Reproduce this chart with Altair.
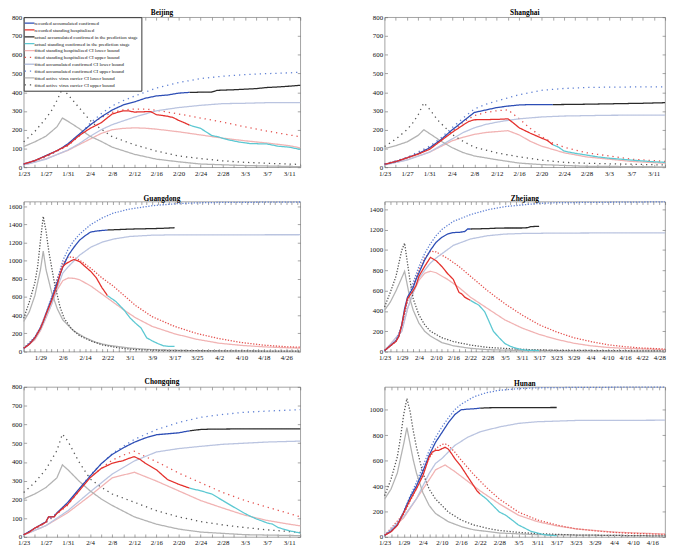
import altair as alt
import pandas as pd

FONT = "Liberation Serif"

KEYS = ["acc", "hos", "acc_pred", "hos_pred", "hos_lo", "hos_hi",
        "acc_lo", "acc_hi", "car_lo", "car_hi"]
LABELS = [
    "recorded accumulated confirmed",
    "recorded standing hospitalized",
    "actual accumulated confirmed in the prediction stage",
    "actual standing confirmed in the prediction stage",
    "fitted standing hospitalized CI lower bound",
    "fitted standing hospitalized CI upper bound",
    "fitted accumulated confirmed CI lower bound",
    "fitted accumulated confirmed CI upper bound",
    "fitted active virus carrier CI lower bound",
    "fitted active virus carrier CI upper bound",
]
COLORS = ["#2c4db5", "#e4302c", "#2a2a2a", "#5cc8d2", "#f1b3b3", "#e4514e",
          "#bac4e0", "#5f80d4", "#b3b3b3", "#555555"]
WIDTHS = [1.3, 1.3, 1.3, 1.1, 0.7, 1.5, 0.7, 1.5, 0.7, 1.5]

# ---- values: [day since 1/23, value] ----
BEIJING = {
    "acc": [[0, 17], [2, 35], [4, 62], [6, 88], [7, 105], [8, 125], [10, 175], [12, 225], [14, 268], [16, 305], [18, 332], [20, 348], [22, 368], [24, 380], [26, 385], [28, 395], [30, 399]],
    "hos": [[0, 17], [2, 35], [4, 60], [6, 88], [8, 118], [10, 168], [12, 207], [14, 237], [16, 284], [18, 301], [19, 300], [20, 294], [22, 296], [23, 296], [24, 280], [26, 272], [27, 265], [28, 250], [29, 238], [30, 224]],
    "acc_pred": [[30, 399], [34, 401], [35, 410], [38, 413], [40, 416], [42, 419], [44, 425], [46, 428], [48, 432], [50, 437]],
    "hos_pred": [[30, 224], [32, 207], [34, 169], [35, 163], [37, 146], [39, 134], [41, 126], [44, 124], [46, 112], [48, 107], [50, 95]],
    "hos_lo": [[0, 12], [4, 45], [8, 90], [10, 120], [12, 150], [14, 180], [16, 200], [18, 207], [20, 210], [22, 208], [24, 203], [28, 189], [32, 172], [36, 155], [40, 141], [44, 129], [48, 115], [50, 103]],
    "hos_hi": [[0, 15], [4, 55], [8, 115], [10, 165], [12, 225], [14, 265], [16, 292], [18, 306], [20, 310], [22, 310], [24, 304], [28, 284], [32, 262], [36, 241], [40, 215], [44, 193], [48, 172], [50, 163]],
    "acc_lo": [[0, 12], [4, 42], [8, 92], [10, 125], [12, 165], [14, 200], [16, 227], [20, 267], [24, 301], [28, 318], [32, 330], [36, 339], [40, 341], [44, 344], [50, 345]],
    "acc_hi": [[0, 17], [4, 55], [8, 118], [10, 170], [12, 235], [14, 285], [16, 327], [18, 355], [20, 379], [24, 422], [28, 451], [32, 473], [36, 485], [40, 494], [44, 499], [48, 503], [50, 507]],
    "car_lo": [[0, 110], [2, 135], [4, 165], [6, 215], [7, 262], [8, 245], [10, 207], [12, 165], [14, 138], [16, 107], [20, 69], [24, 43], [28, 29], [32, 17], [40, 9], [50, 3]],
    "car_hi": [[0, 135], [2, 190], [4, 260], [5, 300], [6, 355], [7, 420], [8, 387], [9, 353], [10, 318], [11, 284], [12, 250], [13, 224], [14, 203], [16, 163], [20, 120], [24, 86], [28, 60], [32, 46], [36, 34], [40, 26], [44, 21], [50, 15]],
}

SHANGHAI = {
    "acc": [[0, 16], [2, 30], [4, 50], [6, 72], [8, 103], [10, 146], [12, 198], [14, 245], [16, 292], [18, 305], [20, 318], [22, 326], [24, 332], [26, 334], [28, 334], [30, 334]],
    "hos": [[0, 16], [2, 30], [4, 50], [6, 70], [8, 95], [10, 140], [12, 185], [14, 225], [15, 244], [16, 253], [18, 254], [20, 255], [22, 258], [23, 235], [24, 210], [26, 181], [28, 155], [29, 143], [30, 120]],
    "acc_pred": [[30, 334], [34, 335], [38, 337], [42, 339], [46, 341], [50, 344]],
    "hos_pred": [[30, 120], [31, 107], [32, 86], [34, 74], [36, 65], [38, 55], [40, 48], [44, 38], [48, 29], [50, 26]],
    "hos_lo": [[0, 13], [4, 40], [8, 80], [10, 110], [12, 140], [14, 160], [16, 175], [18, 185], [20, 190], [22, 195], [24, 172], [26, 138], [28, 112], [30, 95], [32, 77], [36, 55], [40, 43], [44, 31], [50, 21]],
    "hos_hi": [[0, 16], [4, 50], [8, 105], [10, 145], [12, 189], [14, 241], [16, 275], [18, 292], [20, 301], [22, 306], [24, 258], [26, 206], [28, 163], [30, 129], [32, 107], [36, 77], [40, 60], [44, 43], [50, 31]],
    "acc_lo": [[0, 12], [4, 38], [8, 80], [10, 115], [12, 150], [14, 185], [16, 210], [18, 228], [20, 240], [22, 250], [24, 258], [28, 268], [32, 273], [40, 277], [50, 278]],
    "acc_hi": [[0, 17], [4, 52], [8, 112], [10, 155], [12, 210], [14, 262], [16, 310], [18, 335], [20, 353], [24, 387], [28, 410], [32, 420], [36, 425], [40, 427], [50, 429]],
    "car_lo": [[0, 100], [2, 115], [4, 135], [6, 170], [7, 200], [8, 180], [10, 140], [12, 105], [14, 78], [16, 60], [20, 40], [24, 22], [28, 14], [36, 5], [50, 2]],
    "car_hi": [[0, 110], [2, 150], [4, 200], [5, 235], [6, 280], [7, 344], [8, 310], [9.5, 250], [11, 206], [12, 175], [14, 138], [16, 107], [20, 77], [24, 55], [28, 38], [32, 26], [36, 21], [50, 12]],
}

GUANGDONG = {
    "acc": [[0, 36], [2, 82], [4, 153], [6, 260], [7, 331], [8, 420], [10, 580], [12, 757], [14, 930], [16, 1060], [18, 1148], [20, 1225], [22, 1275], [24, 1315], [26, 1325], [28, 1332], [30, 1337]],
    "hos": [[0, 36], [2, 80], [4, 150], [6, 255], [8, 410], [10, 560], [12, 730], [13, 850], [14, 935], [15, 964], [17, 1000], [18, 1013], [20, 990], [22, 935], [24, 882], [26, 811], [28, 704], [30, 615]],
    "acc_pred": [[30, 1337], [34, 1342], [38, 1347], [42, 1350], [46, 1352], [50, 1356], [54, 1362]],
    "hos_pred": [[30, 615], [33, 551], [36, 455], [38, 373], [40, 313], [42, 260], [44, 153], [46, 117], [48, 89], [50, 64], [52, 57], [54, 57]],
    "hos_lo": [[0, 30], [4, 130], [6, 230], [8, 370], [10, 520], [12, 680], [14, 780], [16, 810], [18, 805], [20, 790], [24, 722], [28, 633], [32, 544], [36, 455], [40, 373], [46, 277], [54, 196], [62, 135], [70, 92], [78, 68], [86, 52], [94, 42], [99, 38]],
    "hos_hi": [[0, 36], [4, 150], [6, 250], [8, 400], [10, 570], [12, 800], [14, 970], [16, 1042], [18, 1035], [20, 1006], [24, 917], [28, 811], [32, 722], [36, 615], [40, 508], [46, 384], [54, 277], [62, 199], [70, 142], [78, 100], [86, 71], [94, 53], [99, 48]],
    "acc_lo": [[0, 30], [4, 140], [6, 240], [8, 380], [10, 520], [12, 700], [14, 864], [16, 935], [20, 1060], [24, 1148], [28, 1202], [32, 1237], [38, 1266], [46, 1280], [54, 1284], [99, 1285]],
    "acc_hi": [[0, 36], [4, 160], [6, 270], [8, 420], [10, 600], [12, 790], [14, 1000], [16, 1131], [18, 1220], [20, 1291], [24, 1397], [28, 1468], [32, 1522], [38, 1568], [46, 1604], [54, 1625], [62, 1636], [70, 1640], [99, 1645]],
    "car_lo": [[0, 331], [2, 437], [4, 615], [6, 900], [7, 1105], [8, 900], [10, 651], [12, 473], [14, 348], [18, 224], [22, 153], [26, 100], [30, 71], [38, 39], [46, 21], [60, 11], [99, 4]],
    "car_hi": [[0, 366], [2, 544], [4, 757], [5, 935], [6, 1220], [7, 1486], [8, 1326], [9, 1100], [11, 757], [13, 490], [14.5, 366], [17, 255], [20, 175], [24, 117], [28, 75], [34, 40], [40, 22], [52, 11], [99, 4]],
}

ZHEJIANG = {
    "acc": [[0, 10], [2, 57], [4, 105], [5, 153], [6, 264], [7, 423], [8, 535], [10, 630], [11, 710], [12, 773], [14, 900], [16, 996], [18, 1075], [20, 1123], [22, 1155], [24, 1170], [26, 1172], [28, 1180], [29, 1205], [30, 1205]],
    "hos": [[0, 10], [2, 57], [4, 100], [5, 150], [6, 260], [7, 400], [8, 520], [10, 600], [11, 650], [12, 741], [14, 837], [16, 926], [18, 894], [20, 837], [22, 767], [24, 710], [25, 646], [26, 582], [27, 566], [28, 535], [30, 503]],
    "acc_pred": [[30, 1205], [36, 1209], [38, 1212], [42, 1215], [48, 1215], [50, 1218], [51, 1228], [54, 1232]],
    "hos_pred": [[30, 503], [33, 455], [35, 391], [36, 328], [38, 200], [40, 137], [42, 80], [44, 51], [46, 32], [48, 19], [50, 13], [54, 10]],
    "hos_lo": [[0, 8], [6, 200], [8, 420], [10, 580], [12, 700], [14, 770], [16, 790], [18, 775], [22, 710], [26, 630], [30, 535], [36, 423], [42, 312], [48, 232], [54, 169], [60, 121], [66, 83], [72, 57], [78, 41], [84, 32], [98, 19]],
    "hos_hi": [[0, 10], [4, 100], [6, 250], [8, 500], [10, 650], [12, 800], [14, 916], [16, 986], [18, 980], [22, 916], [26, 837], [30, 741], [36, 598], [42, 471], [48, 360], [54, 264], [60, 194], [66, 137], [72, 99], [78, 67], [84, 48], [90, 35], [98, 25]],
    "acc_lo": [[0, 8], [6, 200], [8, 420], [10, 580], [12, 720], [14, 800], [16, 870], [18, 920], [24, 1044], [30, 1107], [36, 1139], [42, 1155], [48, 1161], [60, 1165], [98, 1168]],
    "acc_hi": [[0, 10], [4, 110], [6, 250], [8, 500], [10, 680], [12, 837], [14, 964], [16, 1060], [18, 1140], [20, 1200], [24, 1280], [30, 1346], [36, 1394], [42, 1425], [48, 1441], [54, 1457], [60, 1464], [98, 1472]],
    "car_lo": [[0, 407], [2, 487], [4, 598], [6, 725], [7, 789], [8, 646], [9, 503], [10, 407], [12, 280], [14, 200], [16, 153], [20, 89], [24, 57], [30, 32], [36, 19], [48, 10], [98, 3]],
    "car_hi": [[0, 439], [2, 582], [4, 741], [5, 869], [6, 996], [7, 1066], [8, 869], [9, 678], [10, 519], [12, 360], [14, 264], [16, 200], [20, 137], [24, 99], [30, 64], [36, 41], [48, 22], [60, 13], [98, 6]],
}

CHONGQING = {
    "acc": [[0, 12], [2, 47], [4, 80], [4.5, 107], [5.5, 108], [6, 128], [8, 185], [10, 255], [12, 324], [14, 390], [16, 440], [18, 475], [20, 505], [22, 528], [24, 545], [26, 550], [28, 555], [30, 566]],
    "hos": [[0, 12], [1, 25], [2, 47], [3, 62], [4, 78], [4.5, 107], [5.5, 107], [6, 125], [7, 150], [8, 175], [10, 245], [12, 315], [14, 365], [16, 393], [18, 407], [19, 419], [20, 428], [21, 414], [22, 393], [24, 358], [25, 332], [26, 306], [28, 281], [30, 260]],
    "acc_pred": [[30, 566], [32, 573], [34, 575], [40, 576], [50, 576]],
    "hos_pred": [[30, 260], [32, 246], [34, 229], [36, 194], [38, 159], [40, 125], [41, 110], [42, 97], [44, 75], [45, 68], [46, 50], [48, 33], [50, 21]],
    "hos_lo": [[0, 10], [4, 60], [8, 130], [12, 220], [16, 315], [18, 330], [20, 345], [24, 298], [28, 246], [32, 194], [36, 154], [40, 116], [44, 88], [48, 68], [50, 59]],
    "hos_hi": [[0, 12], [4, 75], [8, 170], [12, 320], [16, 410], [18, 436], [20, 457], [22, 428], [24, 402], [28, 341], [32, 289], [36, 237], [40, 194], [44, 159], [48, 125], [50, 107]],
    "acc_lo": [[0, 10], [4, 60], [8, 140], [12, 240], [16, 335], [20, 405], [24, 453], [28, 471], [32, 483], [36, 494], [40, 500], [44, 506], [50, 511]],
    "acc_hi": [[0, 12], [4, 78], [8, 178], [12, 330], [16, 445], [20, 520], [24, 572], [28, 610], [32, 638], [36, 653], [40, 665], [44, 671], [50, 679]],
    "car_lo": [[0, 203], [2, 229], [4, 263], [6, 315], [7, 384], [8, 358], [10, 298], [12, 246], [14, 203], [16, 168], [20, 107], [24, 68], [28, 42], [32, 26], [40, 12], [50, 7]],
    "car_hi": [[0, 237], [2, 290], [4, 360], [6, 460], [7, 549], [8, 510], [10, 400], [12, 310], [14, 265], [16, 229], [20, 185], [24, 140], [28, 107], [32, 82], [36, 64], [40, 50], [44, 38], [50, 24]],
}

HUNAN = {
    "acc": [[0, 13], [2, 43], [4, 94], [6, 196], [8, 311], [10, 401], [12, 515], [14, 643], [16, 745], [18, 821], [20, 898], [22, 962], [24, 1000], [26, 1005], [28, 1008], [30, 1013]],
    "hos": [[0, 13], [2, 40], [4, 90], [6, 190], [8, 290], [10, 380], [12, 480], [14, 630], [15, 668], [16, 681], [17, 681], [18, 694], [19, 705], [20, 690], [21, 656], [22, 617], [24, 554], [26, 477], [28, 401], [29, 362], [30, 337]],
    "acc_pred": [[30, 1013], [33, 1016], [40, 1017], [54, 1018]],
    "hos_pred": [[30, 337], [32, 298], [34, 247], [36, 196], [38, 171], [40, 133], [42, 94], [44, 69], [46, 43], [48, 31], [50, 18], [52, 13], [54, 10]],
    "hos_lo": [[0, 10], [6, 150], [10, 300], [14, 450], [16, 528], [19, 566], [22, 515], [26, 439], [30, 362], [36, 260], [42, 171], [48, 120], [54, 87], [60, 64], [72, 38], [88, 23]],
    "hos_hi": [[0, 13], [6, 180], [10, 380], [14, 620], [16, 694], [18, 727], [19, 732], [20, 719], [22, 668], [24, 605], [28, 490], [32, 388], [36, 298], [42, 196], [48, 133], [54, 94], [60, 64], [66, 48], [72, 36], [78, 28], [88, 20]],
    "acc_lo": [[0, 10], [6, 160], [10, 300], [12, 400], [14, 500], [16, 579], [18, 617], [22, 719], [26, 783], [30, 827], [36, 865], [42, 893], [48, 906], [60, 916], [88, 918]],
    "acc_hi": [[0, 13], [4, 95], [6, 200], [8, 320], [10, 430], [12, 554], [14, 681], [16, 783], [18, 865], [20, 936], [22, 1000], [24, 1043], [28, 1102], [32, 1135], [36, 1153], [42, 1166], [48, 1173], [60, 1176], [88, 1179]],
    "car_lo": [[0, 298], [2, 375], [4, 503], [6, 732], [7, 860], [8, 732], [9, 605], [10, 503], [12, 349], [14, 247], [16, 184], [20, 120], [24, 82], [28, 56], [36, 31], [48, 18], [88, 8]],
    "car_hi": [[0, 324], [2, 452], [4, 630], [5, 783], [6, 962], [7, 1089], [8, 987], [9, 834], [10, 707], [12, 503], [14, 375], [16, 298], [18, 247], [20, 196], [24, 133], [28, 94], [32, 69], [36, 51], [42, 36], [48, 26], [60, 15], [88, 8]],
}

# name, data, last day, y max, y tick step, label every, first label day, dot gap
PANELS = [
    ("Beijing", BEIJING, 50, 800, 100, 4, 0, 4.0),
    ("Shanghai", SHANGHAI, 50, 800, 100, 4, 0, 4.0),
    ("Guangdong", GUANGDONG, 99, 1650, 200, 8, 6, 1.6),
    ("Zhejiang", ZHEJIANG, 98, 1475, 200, 6, 0, 1.6),
    ("Chongqing", CHONGQING, 50, 800, 100, 4, 0, 4.0),
    ("Hunan", HUNAN, 88, 1180, 200, 6, 0, 1.8),
]

H = 153
WIDTH_LEFT = 282
WIDTH_RIGHT = 286


def make_panel(name, data, xmax, ymax, ystep, lstep, lstart, gap, width, show_legend):
    rows = []
    for key in KEYS:
        for d, v in data[key]:
            rows.append({"series": LABELS[KEYS.index(key)], "day": d, "value": v})
    df = pd.DataFrame(rows)

    dashes = [[1, 0]] * 4 + [[1, 0], [1.3, gap], [1, 0], [1.3, gap], [1, 0], [1.3, gap]]
    xs = alt.Scale(domain=[0, xmax], nice=False, zero=False)
    ys = alt.Scale(domain=[0, ymax], nice=False, zero=True)
    xticks = list(range(0, xmax + 1, 2))
    yticks = list(range(0, ymax + 1, ystep))
    lab = (f"(datum.value >= {lstart} && (datum.value - {lstart}) % {lstep} == 0) ? "
           "timeFormat(datetime(2020, 0, 23 + datum.value), '%-m/%-d') : ''")

    if show_legend:
        legend = alt.Legend(title=None, orient="top-left", offset=0, padding=2.5,
                            strokeColor="#333", fillColor="white",
                            labelFont=FONT, labelFontSize=5, labelColor="#111",
                            labelLimit=400, symbolType="M-2,0L2,0", symbolSize=25,
                            rowPadding=0, labelOffset=1.5)
    else:
        legend = None

    common = dict(
        color=alt.Color("series:N", scale=alt.Scale(domain=LABELS, range=COLORS), legend=legend),
        strokeDash=alt.StrokeDash("series:N", scale=alt.Scale(domain=LABELS, range=dashes), legend=legend),
        strokeWidth=alt.StrokeWidth("series:N", scale=alt.Scale(domain=LABELS, range=WIDTHS), legend=legend),
    )

    fitted = alt.Chart(df).transform_filter(
        alt.FieldOneOfPredicate(field="series", oneOf=LABELS[4:])
    ).mark_line().encode(
        x=alt.X("day:Q", scale=xs, title=None,
                axis=alt.Axis(orient="bottom", values=xticks, labelExpr=lab, offset=-3,
                              tickSize=3, labelPadding=2, labelFlush=False,
                              labelOverlap=False, domain=False, grid=False)),
        y=alt.Y("value:Q", scale=ys, title=None,
                axis=alt.Axis(orient="left", values=yticks, format="d", offset=-3, tickSize=3,
                              labelPadding=2, labelFlush=False, labelOverlap=False,
                              domain=False, grid=False, minExtent=0)),
        **common,
    )
    recorded = alt.Chart(df).transform_filter(
        alt.FieldOneOfPredicate(field="series", oneOf=LABELS[:4])
    ).mark_line().encode(
        x=alt.X("day:Q", scale=xs, axis=None),
        y=alt.Y("value:Q", scale=ys, axis=None),
        **common,
    )
    frame = alt.Chart(pd.DataFrame({"day": [0], "value": [0]})).mark_point(opacity=0).encode(
        x=alt.X("day:Q", scale=xs, title=None,
                axis=alt.Axis(orient="top", values=xticks, labels=False, offset=-3,
                              tickSize=3, domain=False, grid=False, minExtent=0)),
        y=alt.Y("value:Q", scale=ys, title=None,
                axis=alt.Axis(orient="right", values=yticks, labels=False, offset=-3,
                              tickSize=3, domain=False, grid=False, minExtent=0)),
    )
    return alt.layer(fitted, recorded, frame).resolve_axis(
        x="independent", y="independent"
    ).properties(
        width=width, height=H,
        title=alt.TitleParams(name, font=FONT, fontSize=7.5, fontWeight="bold",
                              offset=-3, anchor="middle", color="#000"),
    )


panels = []
for i, (name, data, xmax, ymax, ystep, lstep, lstart, gap) in enumerate(PANELS):
    w = WIDTH_LEFT if i % 2 == 0 else WIDTH_RIGHT
    panels.append(make_panel(name, data, xmax, ymax, ystep, lstep, lstart, gap, w, i == 0))

chart = alt.ConcatChart(
    concat=panels, columns=2, spacing={"row": 17, "column": 66}, align="each"
).resolve_scale(
    color="independent", strokeDash="independent", strokeWidth="independent"
).properties(
    padding={"left": -1, "top": -5, "right": 0, "bottom": 0}
).configure_view(
    stroke="#8a8a8a", strokeWidth=0.8
).configure_axis(
    labelFont=FONT, labelFontSize=7, labelColor="#111", tickColor="#666", tickWidth=0.6
)

chart.save("out.html", embed_options={"renderer": "svg", "actions": False})
